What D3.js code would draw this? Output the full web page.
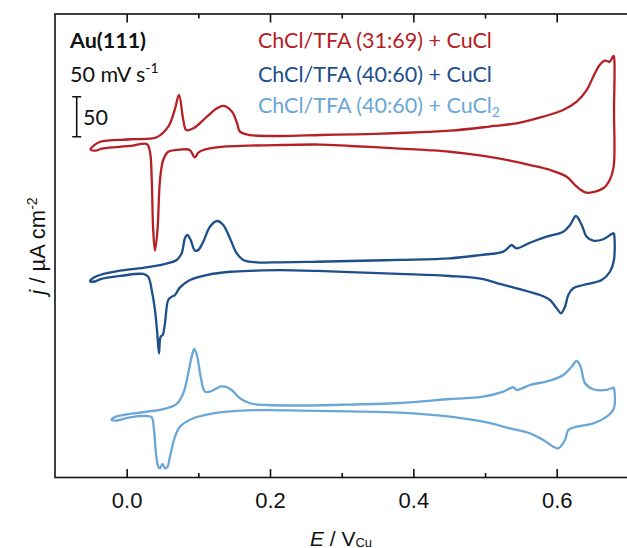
<!DOCTYPE html>
<html>
<head>
<meta charset="utf-8">
<script src="https://cdn.jsdelivr.net/npm/d3@7"></script>
<style>
  body { margin: 0; background: #fff; }
  svg { display: block; }
</style>
</head>
<body>
<svg id="chart" width="627" height="548"></svg>
<script>
// Cyclic voltammograms on Au(111), 50 mV/s. Each loop: [E / V vs Cu, j / µA cm^-2],
// anodic sweep left→right, then cathodic sweep back.
const cvTfa3169CuCl = [
  [-0.0505,-10],[-0.0456,-5],[-0.037,-0.3],[0.005,2.8],[0.042,5.3],[0.058,18.5],[0.067,39.4],
  [0.073,58.1],[0.079,26.9],[0.083,14.4],[0.093,16.5],[0.112,31.0],[0.126,41.5],[0.135,44.4],
  [0.147,37.3],[0.154,22.8],[0.158,12.3],[0.172,8.1],[0.214,6.9],[0.270,8.1],[0.320,9.0],
  [0.381,10.6],[0.420,12.0],
  [0.451,13.5],[0.498,17.8],[0.512,19.4],[0.544,22.8],[0.581,31.0],[0.609,39.4],[0.628,49.8],
  [0.642,64.4],[0.651,81.0],[0.660,95.6],[0.667,101.0],[0.674,99.8],[0.679,106.9],[0.680,105.6],
  [0.680,39.4],[0.6795,-31.5],[0.674,-48.1],[0.665,-58.5],[0.642,-64.0],[0.628,-56.5],
  [0.614,-44.0],[0.591,-35.6],[0.563,-29.4],[0.535,-24.0],[0.498,-18.1],[0.451,-12.8],
  [0.420,-10.8],[0.381,-8.8],[0.312,-5.6],[0.270,-3.8],[0.214,-4.4],[0.170,-5.2],
  [0.135,-6.5],[0.107,-10.6],[0.100,-14.0],[0.095,-19.8],
  [0.088,-10.6],[0.070,-10.6],[0.058,-12.8],[0.051,-23.1],[0.0465,-48.1],[0.043,-110.6],
  [0.0395,-136.5],[0.037,-110.6],[0.035,-48.1],[0.0325,-12.8],[0.028,-3.1],[0.005,-5.6],
  [-0.033,-8.5],[-0.0428,-11.3]
];

const cvTfa4060CuCl = [
  [-0.0511,-19.4],[-0.0456,-15.0],[-0.0373,-11.9],[-0.0093,-6.5],[0.0279,-2.3],[0.0511,1.5],
  [0.0698,6.9],[0.0767,15.3],[0.0813,34.0],[0.0846,38.1],[0.0893,31.9],[0.0953,18.5],
  [0.0999,19.4],[0.1069,29.8],[0.1162,48.5],[0.1264,55.6],[0.1348,50.6],[0.1441,34.0],
  [0.1535,15.3],[0.1627,6.9],[0.1814,4.0],[0.2139,4.0],[0.2600,4.6],[0.3116,5.6],[0.3800,7.0],
  [0.4511,9.0],[0.4930,13.1],
  [0.5255,17.3],[0.5348,24.4],[0.5372,25.6],[0.5442,21.5],[0.5627,28.5],[0.5860,36.0],
  [0.6092,42.3],[0.6186,50.6],[0.6269,61.9],[0.6349,50.6],[0.6418,36.0],[0.6510,31.0],
  [0.6650,32.8],[0.6790,40.3],[0.6799,39.4],
  [0.6799,6.9],[0.6743,-7.8],[0.6628,-18.1],[0.6371,-24.4],[0.6231,-28.5],[0.6162,-36.9],
  [0.6116,-51.5],[0.6060,-59.8],[0.6000,-53.5],[0.5906,-43.1],[0.5767,-36.9],[0.5442,-28.5],
  [0.5209,-23.1],[0.4976,-16.9],[0.4511,-13.1],[0.3800,-10.5],[0.3116,-8.3],[0.2600,-6.6],
  [0.2139,-5.8],[0.1800,-6.4],[0.1441,-7.8],
  [0.1116,-11.9],[0.0883,-18.1],[0.0744,-27.3],[0.0674,-36.9],[0.0628,-39.0],[0.0580,-43.1],
  [0.0534,-72.3],[0.0502,-86.9],[0.0474,-89.0],[0.0451,-109.8],[0.0427,-84.8],[0.0395,-55.6],
  [0.0349,-30.6],[0.0301,-14.0],[0.0232,-10.6],[-0.0093,-13.1],[-0.0373,-17.3],[-0.0442,-20.0]
];

const cvTfa4060CuCl2 = [
  [-0.0212,-16.1],[-0.0163,-12.4],[-0.0047,-9.9],[0.0279,-5.8],[0.0558,-1.5],[0.0698,3.9],
  [0.0790,17.3],[0.0859,42.3],[0.0907,63.0],[0.0943,72.6],[0.0985,63.0],[0.1033,38.0],
  [0.1093,19.3],[0.1186,20.1],[0.1302,25.5],[0.1372,25.5],[0.1465,21.4],[0.1581,11.0],
  [0.1720,4.8],[0.1953,2.6],[0.2418,2.0],[0.3100,3.2],[0.3813,5.1],[0.4511,10.1],[0.4976,13.0],
  [0.5255,19.3],
  [0.5394,24.8],[0.5442,21.4],[0.5627,27.6],[0.5906,33.0],[0.6092,40.1],[0.6209,50.5],
  [0.6279,57.6],[0.6334,50.5],[0.6395,29.8],[0.6510,22.3],[0.6697,21.4],[0.6790,24.3],
  [0.6799,23.3],
  [0.6799,-1.5],[0.6697,-12.0],[0.6510,-20.3],[0.6279,-24.5],[0.6162,-28.6],[0.6116,-41.1],
  [0.6022,-51.5],[0.5953,-49.5],[0.5813,-41.1],[0.5627,-32.8],[0.5348,-26.5],[0.4976,-18.3],
  [0.4511,-12.0],[0.3813,-6.8],[0.3100,-5.3],[0.2418,-4.3],[0.2000,-3.8],[0.1674,-4.0],
  [0.1208,-7.8],[0.0929,-14.0],
  [0.0744,-24.5],[0.0674,-37.0],[0.0604,-62.0],[0.0566,-75.3],[0.0534,-76.5],[0.0502,-71.1],
  [0.0465,-76.5],[0.0441,-74.5],[0.0409,-57.8],[0.0381,-28.6],[0.0349,-12.8],[0.0279,-11.1],
  [0.0046,-12.8],[-0.0149,-16.8]
];

// Vertical stacking offsets (µA cm^-2) for each curve
const curveOffsets = [420, 265, 88];
const curveColors = ["#b52025", "#1d4f8b", "#6aa7d6"];
const legendMain = ["ChCl/TFA (31:69) + CuCl", "ChCl/TFA (40:60) + CuCl", "ChCl/TFA (40:60) + CuCl"];
const legendSub = ["", "", "2"];

const majorTicks = [0.0, 0.2, 0.4, 0.6];
const minorTicks = [0.1, 0.3, 0.5, 0.7];
const scaleBarValue = 50;       // µA cm^-2
const scaleBarBase = 426;       // position on the stacked current axis

const curves = [cvTfa3169CuCl, cvTfa4060CuCl, cvTfa4060CuCl2];

const svg = d3.select("#chart");
const plotLeft = 55, plotTop = 14, plotBottom = 477.5;

const x = d3.scaleLinear().domain([-0.1, 0.7]).range([plotLeft, plotLeft + 0.8 * 716.7]);
const y = d3.scaleLinear().domain([0, (plotBottom - plotTop) / 0.8]).range([plotBottom, plotTop]);

const labelFont = "'Liberation Sans', Arial, sans-serif";
const noteFont = "Lato, 'Open Sans', sans-serif";

// Curves
const line = d3.line().curve(d3.curveCatmullRomClosed.alpha(0.5));
curves.forEach((pts, i) => {
  svg.append("path")
    .attr("d", line(pts.map(p => [x(p[0]), y(p[1] + curveOffsets[i])])))
    .attr("fill", "none")
    .attr("stroke", curveColors[i])
    .attr("stroke-width", 2.3)
    .attr("stroke-linejoin", "round");
});

// Frame (right side lies beyond the drawing area)
svg.append("rect")
  .attr("x", plotLeft).attr("y", plotTop)
  .attr("width", 650).attr("height", plotBottom - plotTop)
  .attr("fill", "none").attr("stroke", "#111").attr("stroke-width", 1.6);

// Bottom axis
const gB = svg.append("g").attr("transform", `translate(0,${plotBottom})`);
gB.call(d3.axisBottom(x).tickValues(majorTicks).tickSize(-8.5).tickPadding(14.6)
  .tickFormat(d3.format(".1f")));
gB.append("g").call(d3.axisBottom(x).tickValues(minorTicks).tickSize(-4.5).tickFormat(""));
// Top axis
const gT = svg.append("g").attr("transform", `translate(0,${plotTop})`);
gT.call(d3.axisTop(x).tickValues(majorTicks).tickSize(-8.5).tickFormat(""));
gT.append("g").call(d3.axisTop(x).tickValues(minorTicks).tickSize(-4.5).tickFormat(""));

svg.selectAll(".domain").remove();
svg.selectAll(".tick line").attr("stroke", "#111").attr("stroke-width", 1.6);
svg.selectAll(".tick text")
  .attr("font-family", labelFont).attr("font-size", 22).attr("fill", "#111");

// Axis titles
const xt = svg.append("text")
  .attr("x", 341).attr("y", 546)
  .attr("text-anchor", "middle")
  .attr("font-family", labelFont).attr("font-size", 21).attr("fill", "#111");
xt.append("tspan").attr("font-style", "italic").text("E");
xt.append("tspan").text(" / V");
xt.append("tspan").attr("font-size", 13).attr("dy", 1).text("Cu");

const yt = svg.append("text")
  .attr("transform", "translate(45,246) rotate(-90)")
  .attr("text-anchor", "middle")
  .attr("font-family", labelFont).attr("font-size", 22).attr("fill", "#111");
yt.append("tspan").attr("font-style", "italic").text("j");
yt.append("tspan").text(" / µA cm");
yt.append("tspan").attr("font-size", 14).attr("dy", -8).text("-2");

// Annotations
svg.append("text")
  .attr("x", 70).attr("y", 47.5)
  .attr("font-family", noteFont).attr("font-size", 21.5).attr("font-weight", "bold")
  .attr("fill", "#111").text("Au(111)");

const rate = svg.append("text")
  .attr("x", 70).attr("y", 81.7)
  .attr("font-family", noteFont).attr("font-size", 21.5).attr("fill", "#111");
rate.append("tspan").text("50 mV s");
rate.append("tspan").attr("font-size", 14).attr("dy", -9).text("-1");

// Scale bar
const sbX = 76.7;
const sbTop = y(scaleBarBase + scaleBarValue), sbBot = y(scaleBarBase);
svg.append("path")
  .attr("d", `M${sbX},${sbTop}V${sbBot}M${sbX - 4.5},${sbTop}H${sbX + 4.5}M${sbX - 4.5},${sbBot}H${sbX + 4.5}`)
  .attr("stroke", "#111").attr("stroke-width", 1.6).attr("fill", "none");
svg.append("text")
  .attr("x", 83).attr("y", 125)
  .attr("font-family", noteFont).attr("font-size", 21.5).attr("fill", "#111")
  .text(String(scaleBarValue));

// Legend
const legendBaselines = [48, 81.7, 113];
legendMain.forEach((t, i) => {
  const tx = svg.append("text")
    .attr("x", 258).attr("y", legendBaselines[i])
    .attr("font-family", noteFont).attr("font-size", 21.5).attr("fill", curveColors[i]);
  tx.append("tspan").text(t);
  if (legendSub[i]) tx.append("tspan").attr("font-size", 14).attr("dy", 4).text(legendSub[i]);
});
</script>
</body>
</html>
